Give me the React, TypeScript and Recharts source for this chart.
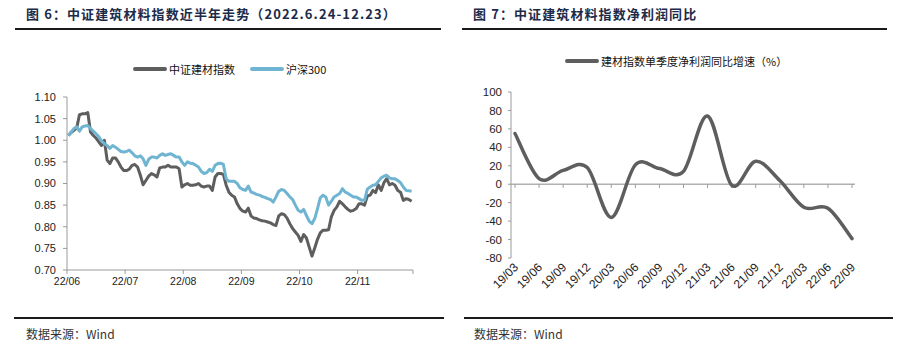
import React from 'react';
import { LineChart, Line, XAxis, YAxis, ReferenceLine } from 'recharts';

// 图6: daily closes, 2022.6.24 - 12.23 (normalised to the start)
const buildingIndex = [
  1.011, 1.018, 1.023, 1.028, 1.059, 1.061, 1.061, 1.064, 1.019, 1.011,
  1.005, 0.996, 0.988, 1.0, 0.954, 0.946, 0.959, 0.959, 0.95, 0.938,
  0.93, 0.93, 0.933, 0.942, 0.944, 0.938, 0.919, 0.897, 0.907, 0.917,
  0.923, 0.92, 0.915, 0.936, 0.938, 0.938, 0.942, 0.938, 0.938, 0.938,
  0.934, 0.892, 0.897, 0.9, 0.896, 0.896, 0.897, 0.9, 0.894, 0.892,
  0.894, 0.894, 0.884, 0.915, 0.923, 0.923, 0.921, 0.896, 0.88, 0.873,
  0.869, 0.853, 0.842, 0.836, 0.834, 0.843, 0.825, 0.82, 0.819, 0.816,
  0.814, 0.813, 0.811, 0.809, 0.805, 0.803, 0.825, 0.83, 0.828, 0.82,
  0.807, 0.796, 0.788, 0.78, 0.766, 0.782, 0.774, 0.753, 0.732, 0.751,
  0.771, 0.786, 0.792, 0.792, 0.793, 0.823, 0.838, 0.846, 0.859, 0.853,
  0.846, 0.84, 0.836, 0.838, 0.842, 0.853, 0.853, 0.85, 0.871, 0.873,
  0.884, 0.879, 0.897, 0.884, 0.902, 0.911, 0.897, 0.9, 0.896, 0.884,
  0.88, 0.861, 0.865, 0.863, 0.859,
];
const hs300 = [
  1.011, 1.019, 1.027, 1.031, 1.021, 1.031, 1.033, 1.034, 1.027, 1.021,
  1.015, 1.008, 0.998, 0.992, 0.988, 0.981, 0.988, 0.984, 0.979, 0.974,
  0.973, 0.974, 0.977, 0.971, 0.964, 0.961, 0.964, 0.957, 0.942, 0.956,
  0.961, 0.961, 0.959, 0.965, 0.969, 0.965, 0.967, 0.969, 0.965, 0.961,
  0.961, 0.95, 0.942, 0.95, 0.947, 0.946, 0.942, 0.938, 0.928, 0.923,
  0.925, 0.933, 0.928, 0.942, 0.946, 0.947, 0.944, 0.911, 0.905, 0.905,
  0.905, 0.9, 0.89, 0.886, 0.884, 0.894, 0.88, 0.878, 0.875, 0.873,
  0.87, 0.868, 0.865, 0.863, 0.857, 0.869, 0.882, 0.886, 0.884, 0.877,
  0.869, 0.863, 0.85, 0.838, 0.834, 0.84, 0.826, 0.813, 0.807, 0.819,
  0.842, 0.867, 0.873, 0.869, 0.85, 0.859, 0.869, 0.873, 0.877, 0.888,
  0.88, 0.877, 0.873, 0.869, 0.869, 0.865, 0.861, 0.861, 0.887, 0.892,
  0.896, 0.897, 0.905, 0.913, 0.917, 0.919, 0.913, 0.911, 0.911, 0.907,
  0.902, 0.892, 0.884, 0.883, 0.882,
];
const monthLabels = ['22/06', '22/07', '22/08', '22/09', '22/10', '22/11', ''];
const monthTicks = [0, 21, 42, 63, 84, 105, 125];
const trendTicks = [0.7, 0.75, 0.8, 0.85, 0.9, 0.95, 1.0, 1.05, 1.1];

// 图7: quarterly net profit yoy (%)
const quarters = [
  '19/03', '19/06', '19/09', '19/12', '20/03', '20/06', '20/09', '20/12',
  '21/03', '21/06', '21/09', '21/12', '22/03', '22/06', '22/09',
];
const profitYoy = [55, 6, 15, 18, -36, 21, 17, 14, 74, -1, 25, 4, -25, -26, -59];
const profitTicks = [-80, -60, -40, -20, 0, 20, 40, 60, 80, 100];

const trendData = buildingIndex.map((v, i) => ({ pos: i + 0.5, idx: v, hs: hs300[i] }));
const profitData = quarters.map((q, i) => ({ q, yoy: profitYoy[i] }));

const GRAY = '#5e5e5e';
const BLUE = '#6fb5d2';
const AXIS = '#9a9a9a';
const NUM_FONT = '"Liberation Sans", Arial, sans-serif';
const CJK_FONT = '"Noto Sans CJK SC", "Liberation Sans", sans-serif';

// excel style smoothed line (catmull-rom through every point)
const excelSmooth: any = (ctx: any) => {
  let pts: number[][] = [];
  return {
    areaStart() {},
    areaEnd() {},
    lineStart() { pts = []; },
    lineEnd() {
      if (!pts.length) return;
      ctx.moveTo(pts[0][0], pts[0][1]);
      for (let i = 0; i < pts.length - 1; i++) {
        const p0 = pts[Math.max(i - 1, 0)];
        const p1 = pts[i];
        const p2 = pts[i + 1];
        const p3 = pts[Math.min(i + 2, pts.length - 1)];
        ctx.bezierCurveTo(
          p1[0] + (p2[0] - p0[0]) / 6, p1[1] + (p2[1] - p0[1]) / 6,
          p2[0] - (p3[0] - p1[0]) / 6, p2[1] - (p3[1] - p1[1]) / 6,
          p2[0], p2[1],
        );
      }
    },
    point(x: number, y: number) { pts.push([+x, +y]); },
  };
};

const QuarterTick = (props: any) => {
  const { x, y, payload } = props;
  return (
    <g transform={`translate(${x + 4},${y + 10})`}>
      <text x={0} y={0} textAnchor="end" transform="rotate(-45)" fontSize={12} fill="#222" fontFamily={NUM_FONT}>
        {payload.value}
      </text>
    </g>
  );
};

const LegendItem: React.FC<{ color: string; label: string; left: number; top: number }> = ({ color, label, left, top }) => (
  <div style={{ position: 'absolute', left, top, display: 'flex', alignItems: 'center', height: 14 }}>
    <div style={{ width: 34, height: 4, background: color, borderRadius: 2 }} />
    <span style={{ marginLeft: 2, fontSize: 11, color: '#111', fontFamily: CJK_FONT, lineHeight: '14px' }}>{label}</span>
  </div>
);

const Title: React.FC<{ text: string; left: number }> = ({ text, left }) => (
  <div style={{ position: 'absolute', left, top: 4, fontSize: 13, fontWeight: 700, color: '#1b2b49', fontFamily: CJK_FONT, letterSpacing: 1.1, lineHeight: '20px', whiteSpace: 'nowrap' }}>
    {text}
  </div>
);

const Rule: React.FC<{ left: number; right: number; top: number }> = ({ left, right, top }) => (
  <div style={{ position: 'absolute', left, top, width: right - left, height: 2, background: '#1a1a1a' }} />
);

const Source: React.FC<{ left: number }> = ({ left }) => (
  <div style={{ position: 'absolute', left, top: 326, fontSize: 12, color: '#333', fontFamily: CJK_FONT, lineHeight: '16px' }}>
    数据来源：Wind
  </div>
);

export default function App() {
  return (
    <div style={{ position: 'absolute', left: 0, top: 0, width: 901, height: 351, background: '#fff', overflow: 'hidden' }}>
      <Title text="图 6：中证建筑材料指数近半年走势（2022.6.24-12.23）" left={26} />
      <Rule left={15} right={441} top={28} />
      <Title text="图 7：中证建筑材料指数净利润同比" left={473} />
      <Rule left={462} right={887} top={28} />

      <LegendItem color={GRAY} label="中证建材指数" left={133} top={62} />
      <LegendItem color={BLUE} label="沪深300" left={250} top={62} />
      <LegendItem color={GRAY} label="建材指数单季度净利润同比增速（%）" left={565} top={54} />

      <div style={{ position: 'absolute', left: 0, top: 40 }}>
        <LineChart width={440} height={260} data={trendData} margin={{ top: 57, right: 27, bottom: 0, left: 7 }}>
          <XAxis
            dataKey="pos"
            type="number"
            domain={[0, 125]}
            ticks={monthTicks}
            tickFormatter={(v: number) => monthLabels[monthTicks.indexOf(v)]}
            height={30}
            stroke={AXIS}
            tickSize={4}
            tickMargin={4}
            tick={{ fontSize: 10.5, fill: '#222', fontFamily: NUM_FONT }}
            interval={0}
          />
          <YAxis
            type="number"
            domain={[0.7, 1.1]}
            ticks={trendTicks}
            tickFormatter={(v: number) => v.toFixed(2)}
            width={60}
            stroke={AXIS}
            tickSize={4}
            tickMargin={7}
            tick={{ fontSize: 11, fill: '#222', fontFamily: NUM_FONT }}
            interval={0}
          />
          <Line dataKey="idx" stroke={GRAY} strokeWidth={3} dot={false} activeDot={false} isAnimationActive={false} type="linear" strokeLinejoin="round" />
          <Line dataKey="hs" stroke={BLUE} strokeWidth={3} dot={false} activeDot={false} isAnimationActive={false} type="linear" strokeLinejoin="round" />
        </LineChart>
      </div>

      <div style={{ position: 'absolute', left: 450, top: 40 }}>
        <LineChart width={451} height={270} data={profitData} margin={{ top: 52, right: 46, bottom: 0, left: 11 }}>
          <XAxis
            dataKey="q"
            height={52}
            axisLine={false}
            tickLine={false}
            tickSize={0}
            tickMargin={0}
            tick={<QuarterTick />}
            interval={0}
            padding={{ left: 4, right: 3 }}
          />
          <YAxis
            type="number"
            domain={[-80, 100]}
            ticks={profitTicks}
            width={50}
            stroke={AXIS}
            tickSize={3}
            tickMargin={6}
            tick={{ fontSize: 11.5, fill: '#222', fontFamily: NUM_FONT }}
            interval={0}
          />
          <ReferenceLine y={0} stroke="#b0b0b0" strokeWidth={1.5} />
          {quarters.map((q) => (
            <ReferenceLine key={q} segment={[{ x: q, y: 0 }, { x: q, y: -4 }]} stroke="#9a9a9a" />
          ))}
          <Line dataKey="yoy" stroke={GRAY} strokeWidth={3.5} dot={false} activeDot={false} isAnimationActive={false} type={excelSmooth} strokeLinejoin="round" strokeLinecap="round" />
        </LineChart>
      </div>

      <Rule left={14} right={444} top={317} />
      <Rule left={464} right={893} top={317} />
      <Source left={26} />
      <Source left={474} />
    </div>
  );
}
